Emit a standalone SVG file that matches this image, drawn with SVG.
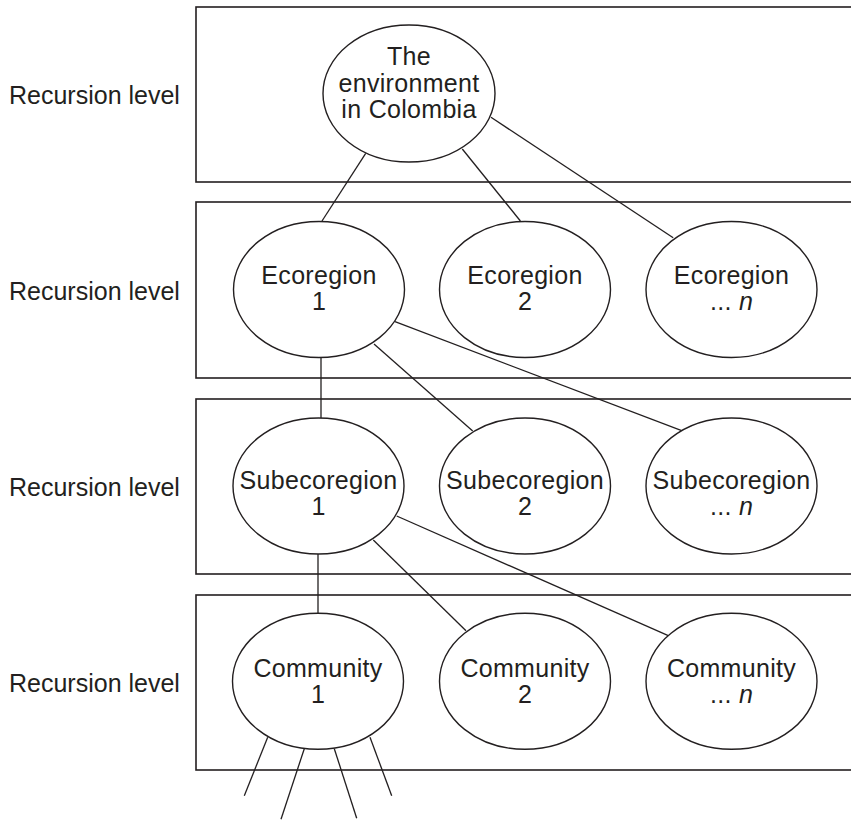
<svg xmlns="http://www.w3.org/2000/svg" width="851" height="820" viewBox="0 0 851 820">
<style>
.lvl{fill:none;stroke:#231f20;stroke-width:1.6}
.n ellipse{fill:#fff;stroke:#231f20;stroke-width:1.4}
.c line{stroke:#231f20;stroke-width:1.3}
text{font-family:"Liberation Sans",Arial,sans-serif;font-size:25px;fill:#231f20}
.n text{text-anchor:middle;letter-spacing:0.3px}
</style>
<rect width="851" height="820" fill="#fff"/>
<g id="levels">
<rect class="lvl" x="196" y="7" width="660" height="175"/>
<rect class="lvl" x="196" y="202" width="660" height="176"/>
<rect class="lvl" x="196" y="399" width="660" height="175"/>
<rect class="lvl" x="196" y="595" width="660" height="175"/>
<text x="9" y="104">Recursion level</text>
<text x="9" y="300">Recursion level</text>
<text x="9" y="496">Recursion level</text>
<text x="9" y="692">Recursion level</text>
</g>
<g id="connectors" class="c">
<line x1="365.7" y1="153.3" x2="322" y2="221"/>
<line x1="462.3" y1="149" x2="520.4" y2="221"/>
<line x1="491" y1="117.3" x2="673.2" y2="237.7"/>
<line x1="321" y1="357.5" x2="321" y2="418"/>
<line x1="374" y1="344" x2="472.7" y2="431"/>
<line x1="395" y1="321.7" x2="681.7" y2="430.7"/>
<line x1="318" y1="554" x2="318" y2="613"/>
<line x1="373.3" y1="540" x2="466" y2="630.7"/>
<line x1="396.7" y1="516" x2="668.3" y2="635.7"/>
<line x1="267.7" y1="737.3" x2="244.3" y2="795.7"/>
<line x1="304.3" y1="748.7" x2="281" y2="819.3"/>
<line x1="334.3" y1="748.7" x2="356.7" y2="818.3"/>
<line x1="370" y1="737.3" x2="391.7" y2="795.7"/>
</g>
<g id="colombia" class="n">
<ellipse cx="409" cy="93.5" rx="86" ry="68.5"/>
<text x="409" y="65">The</text>
<text x="409" y="91.7">environment</text>
<text x="409" y="118.3">in Colombia</text>
</g>
<g id="eco1" class="n">
<ellipse cx="319" cy="289.5" rx="85.5" ry="68"/>
<text x="319" y="284">Ecoregion</text>
<text x="319" y="310">1</text>
</g>
<g id="eco2" class="n">
<ellipse cx="525" cy="289.5" rx="85.5" ry="68"/>
<text x="525" y="284">Ecoregion</text>
<text x="525" y="310">2</text>
</g>
<g id="econ" class="n">
<ellipse cx="731.5" cy="289.5" rx="85.5" ry="68"/>
<text x="731.5" y="284">Ecoregion</text>
<text x="731.5" y="310">... <tspan font-style="italic">n</tspan></text>
</g>
<g id="sub1" class="n">
<ellipse cx="318.5" cy="486" rx="85.5" ry="68"/>
<text x="318.5" y="489">Subecoregion</text>
<text x="318.5" y="515">1</text>
</g>
<g id="sub2" class="n">
<ellipse cx="525" cy="486" rx="85.5" ry="68"/>
<text x="525" y="489">Subecoregion</text>
<text x="525" y="515">2</text>
</g>
<g id="subn" class="n">
<ellipse cx="731.5" cy="486" rx="85.5" ry="68"/>
<text x="731.5" y="489">Subecoregion</text>
<text x="731.5" y="515">... <tspan font-style="italic">n</tspan></text>
</g>
<g id="com1" class="n">
<ellipse cx="318" cy="681.3" rx="85.5" ry="68"/>
<text x="318" y="676.7">Community</text>
<text x="318" y="703.3">1</text>
</g>
<g id="com2" class="n">
<ellipse cx="525" cy="681.3" rx="85.5" ry="68"/>
<text x="525" y="676.7">Community</text>
<text x="525" y="703.3">2</text>
</g>
<g id="comn" class="n">
<ellipse cx="731.5" cy="681.3" rx="85.5" ry="68"/>
<text x="731.5" y="676.7">Community</text>
<text x="731.5" y="703.3">... <tspan font-style="italic">n</tspan></text>
</g>
</svg>
